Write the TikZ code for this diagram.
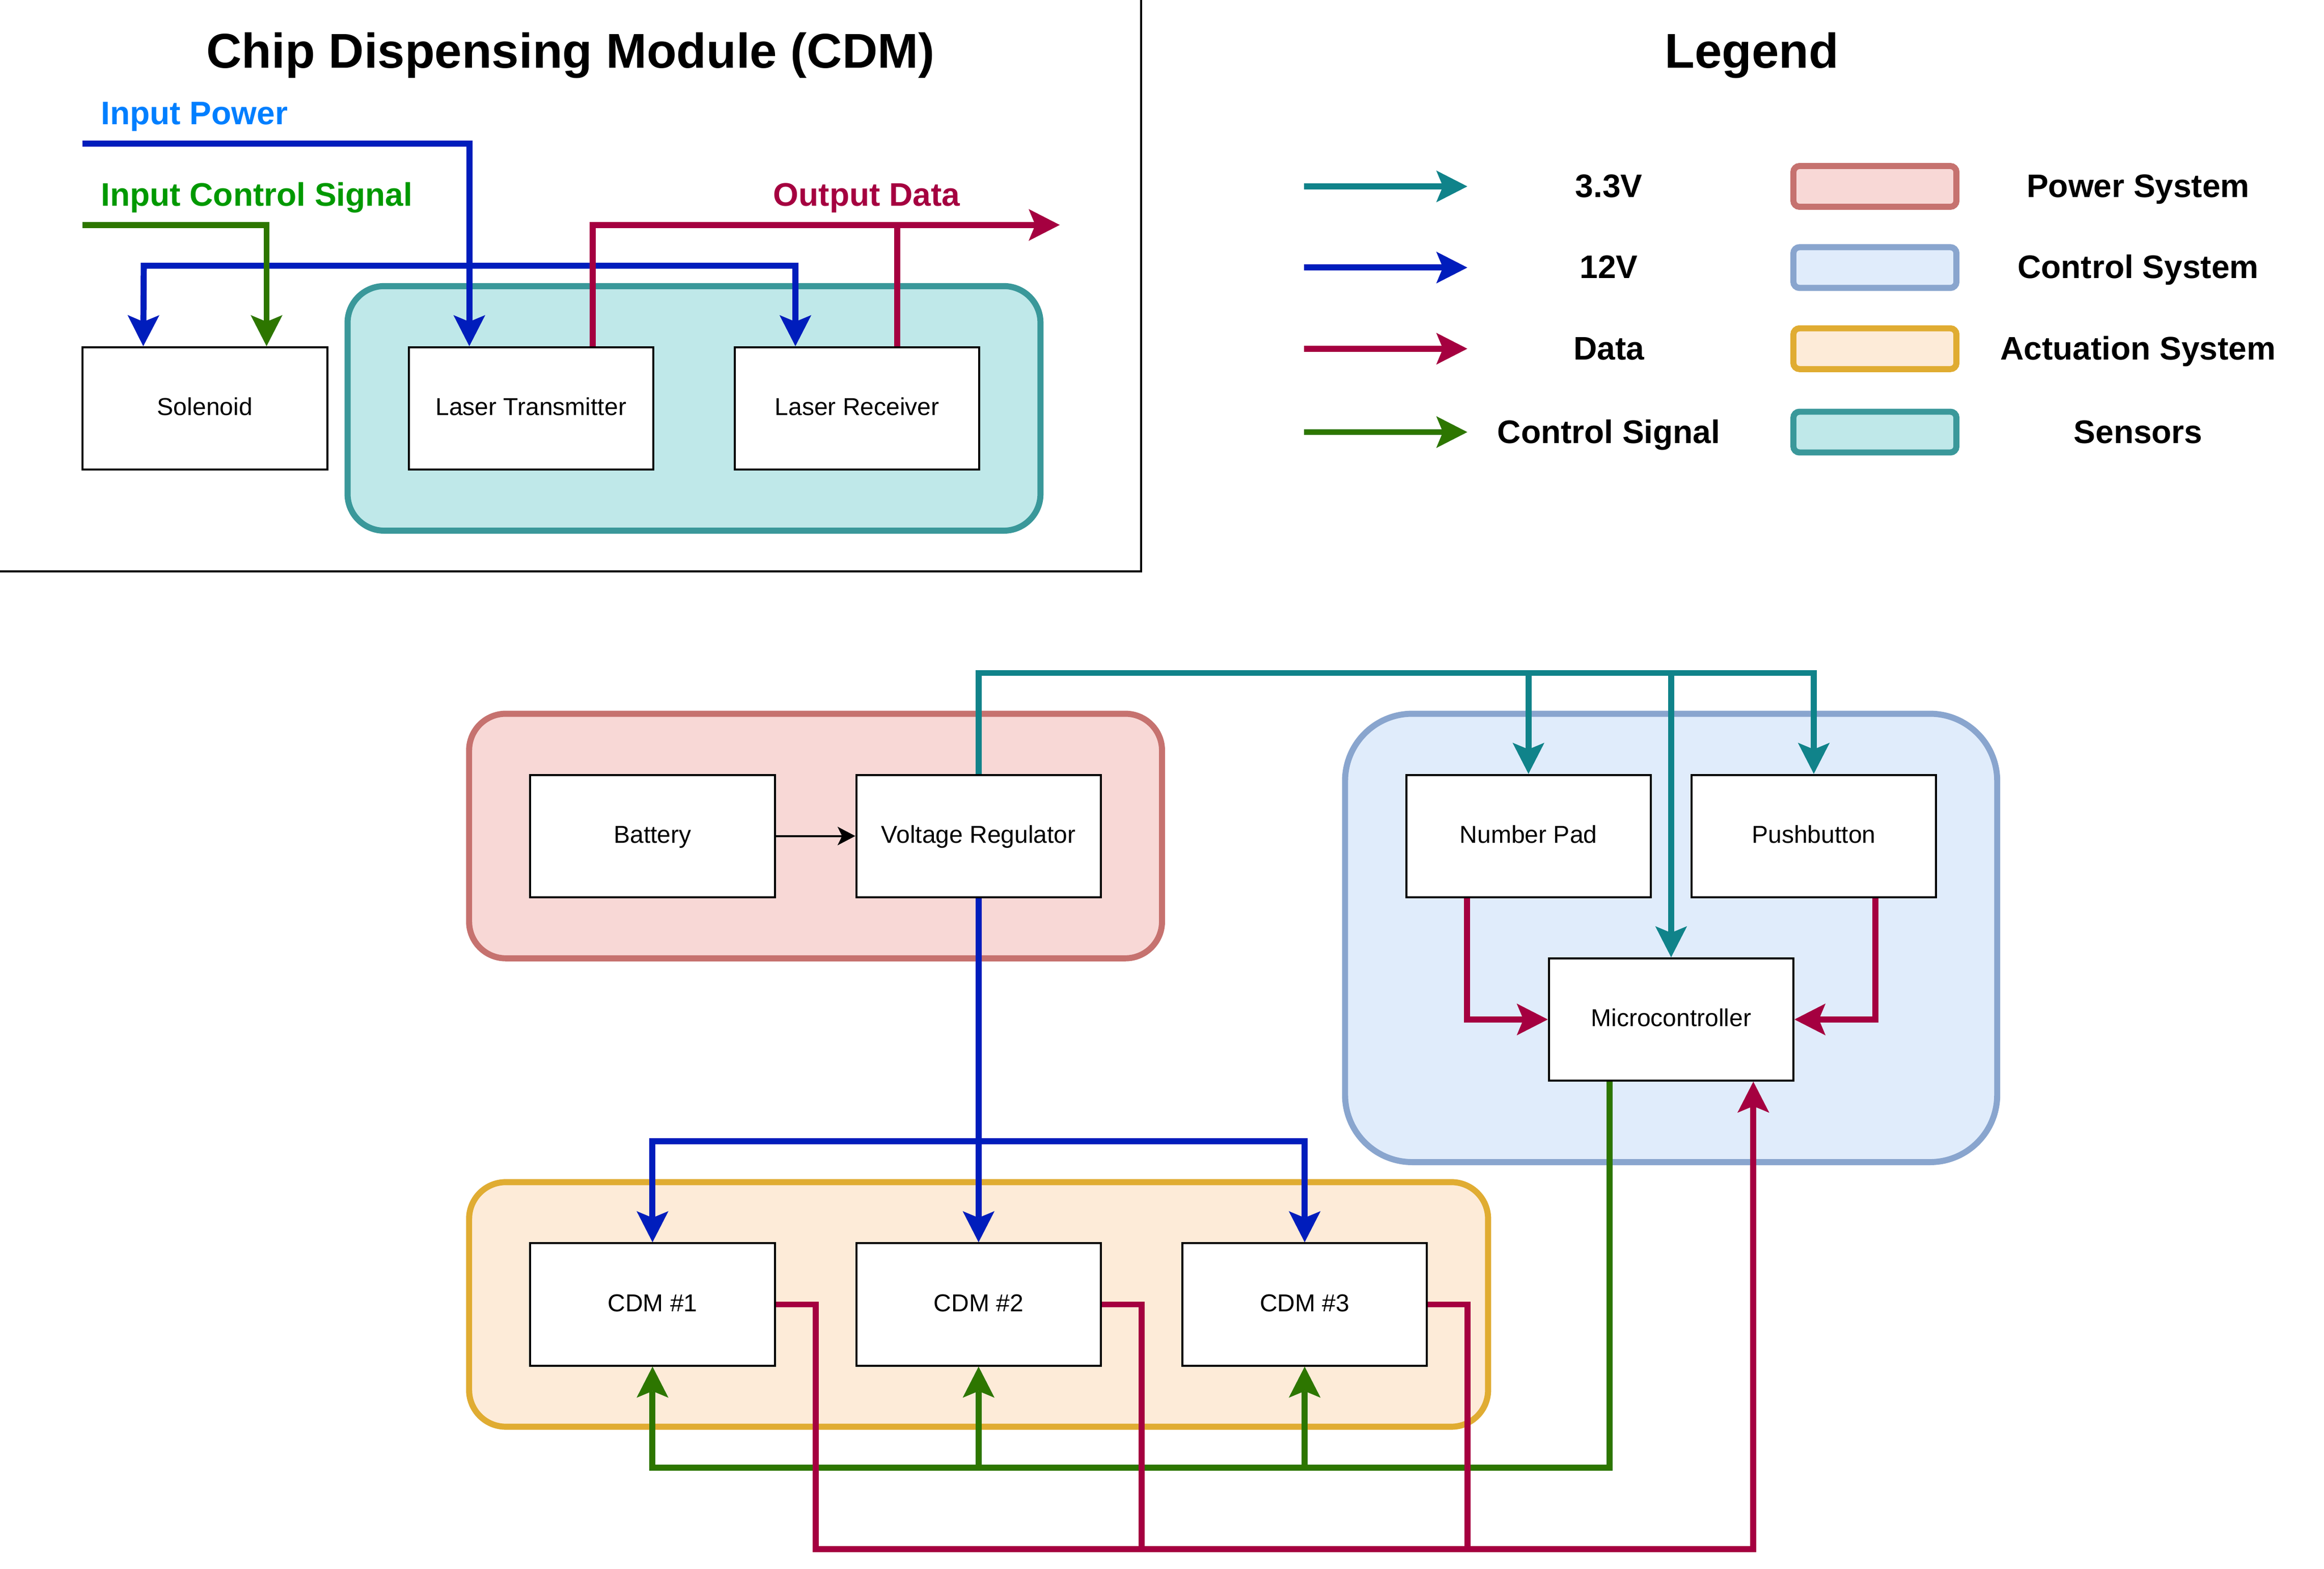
\documentclass[tikz,border=0pt]{standalone}
\usepackage{fontspec}
\setmainfont{Liberation Sans}
\usetikzlibrary{arrows.meta,calc}
\definecolor{cthree}{HTML}{10838A}
\definecolor{ctwelve}{HTML}{001DBC}
\definecolor{cdata}{HTML}{A50040}
\definecolor{csig}{HTML}{2D7600}
\definecolor{pwrF}{HTML}{F8D8D6}\definecolor{pwrS}{HTML}{C6726F}
\definecolor{ctlF}{HTML}{E0ECFB}\definecolor{ctlS}{HTML}{89A5CE}
\definecolor{actF}{HTML}{FDEBD8}\definecolor{actS}{HTML}{E0AC32}
\definecolor{senF}{HTML}{BFE8E9}\definecolor{senS}{HTML}{3A989A}
\definecolor{inpw}{HTML}{007FFF}
\definecolor{incs}{HTML}{009900}
\begin{document}
\begin{tikzpicture}[x=1pt,y=-1pt,
  >={Stealth[length=21pt,width=21.5pt,inset=4.5pt,line width=0pt]},
  blk/.style={draw=black,fill=white,line width=1.4pt,minimum width=165pt,minimum height=82.5pt,
    inner sep=0pt,font=\fontsize{16.5pt}{19pt}\selectfont,text height=11.8pt,text depth=2.4pt},
  grp/.style={line width=4.1pt,inner sep=0pt,rounded corners=24.75pt},
  legbox/.style={line width=4.1pt,inner sep=0pt,rounded corners=4.1pt,minimum width=110pt,minimum height=27.5pt},
  wire/.style={line width=4.1pt},
  lbl/.style={font=\bfseries\fontsize{22pt}{26pt}\selectfont,inner sep=0pt,anchor=base},
  ttl/.style={font=\bfseries\fontsize{33pt}{40pt}\selectfont,inner sep=0pt,anchor=base},
  frame/.style={line width=1.4pt,black}
]
\useasboundingbox (0,0) rectangle (1568,1058.2);
\fill[white] (0,0) rectangle (1568,1058.2);

% ---------- top-left panel ----------
\draw[frame] (770,0) -- (770,385.5) -- (0,385.5);
\node[ttl] (t1) at (385,46) {Chip Dispensing Module (CDM)};
\node[lbl,anchor=base west,text=inpw] (lip) at (68,84) {Input Power};
\node[lbl,anchor=base west,text=incs] (lics) at (68,139) {Input Control Signal};
\node[lbl,anchor=base west,text=cdata] (lod) at (521.6,139) {Output Data};

\node[grp,draw=senS,fill=senF,minimum width=467.5pt,minimum height=165pt] (sens) at (468.25,275.5) {};
\node[blk] (sol) at (138.25,275.5) {Solenoid};
\node[blk] (lt) at (358.25,275.5) {Laser Transmitter};
\node[blk] (lr) at (578.25,275.5) {Laser Receiver};

\coordinate (pin) at (55.75,96.75);
\coordinate (cin) at (55.75,151.75);
\coordinate (bbus) at (97,179.25);
\coordinate (dout) at (715,151.75);

\draw[wire,ctwelve,->] (pin) -| ($(lt.north west)!0.25!(lt.north east)$);
\draw[wire,ctwelve,<->] ($(sol.north west)!0.25!(sol.north east)$) -- (bbus) -| ($(lr.north west)!0.25!(lr.north east)$);
\draw[wire,csig,->] (cin) -| ($(sol.north west)!0.75!(sol.north east)$);
\draw[wire,cdata,->] ($(lt.north west)!0.75!(lt.north east)$) |- (dout);
\draw[wire,cdata] ($(lr.north west)!0.662!(lr.north east)$) -- ($(lr.north west)!0.662!(lr.north east) + (0,-82.5)$);

% ---------- legend ----------
\node[ttl] (t2) at (1182,46) {Legend};
\foreach \yy/\cc/\tt/\ff/\ss/\gg [count=\i] in {
   125.75/cthree/3.3V/pwrF/pwrS/Power System,
   180.5/ctwelve/12V/ctlF/ctlS/Control System,
   235.25/cdata/Data/actF/actS/Actuation System,
   291.5/csig/Control Signal/senF/senS/Sensors}{
  \coordinate (ls\i) at (880,\yy);
  \coordinate (le\i) at (990,\yy);
  \draw[wire,\cc,->] (ls\i) -- (le\i);
  \node[lbl] (lt\i) at (1085.5,\yy+7.4) {\tt};
  \node[legbox,draw=\ss,fill=\ff] (lb\i) at (1265,\yy) {};
  \node[lbl] (lg\i) at (1442.6,\yy+7.4) {\gg};
}

% ---------- groups ----------
\node[grp,draw=pwrS,fill=pwrF,minimum width=467.5pt,minimum height=165pt] (gpwr) at (550.25,564) {};
\node[grp,draw=ctlS,fill=ctlF,minimum width=440pt,minimum height=302.5pt,rounded corners=45.4pt] (gctl) at (1127.5,632.75) {};
\node[grp,draw=actS,fill=actF,minimum width=687.5pt,minimum height=165pt] (gact) at (660.25,880) {};

% ---------- blocks ----------
\node[blk] (bat) at (440.25,564) {Battery};
\node[blk] (vr) at (660.25,564) {Voltage Regulator};
\node[blk] (np) at (1031.25,564) {Number Pad};
\node[blk] (pb) at (1223.75,564) {Pushbutton};
\node[blk] (mc) at (1127.5,687.75) {Microcontroller};
\node[blk] (c1) at (440.25,880) {CDM \#1};
\node[blk] (c2) at (660.25,880) {CDM \#2};
\node[blk] (c3) at (880.25,880) {CDM \#3};

% ---------- connectors ----------
\draw[line width=1.4pt,-{Stealth[length=12pt,width=12.6pt,inset=3.1pt,line width=0pt]}] (bat) -- (vr);

\coordinate (tb) at (660.25,454);
\draw[wire,cthree,->] (vr.north) -- (tb) -| (pb.north);
\draw[wire,cthree,->] (np.north |- tb) -- (np.north);
\draw[wire,cthree,->] (mc.north |- tb) -- (mc.north);

\draw[wire,cdata,->] ($(np.south west)!0.25!(np.south east)$) |- (mc.west);
\draw[wire,cdata,->] ($(pb.south west)!0.75!(pb.south east)$) |- (mc.east);

\coordinate (bb) at (440.25,770);
\draw[wire,ctwelve,->] (vr.south) -- (c2.north);
\draw[wire,ctwelve,<->] (c1.north) -- (bb) -| (c3.north);

\coordinate (gb) at (440.25,990);
\draw[wire,csig,->] ($(mc.south west)!0.25!(mc.south east)$) |- (gb) -- (c1.south);
\draw[wire,csig,->] (c2.south |- gb) -- (c2.south);
\draw[wire,csig,->] (c3.south |- gb) -- (c3.south);

\coordinate (rb1) at (550.25,1045);
\coordinate (rb2) at (770.25,1045);
\coordinate (rb3) at (990.25,1045);
\draw[wire,cdata,->] (c1.east) -| (rb1) -| ($(mc.south west)!0.8333!(mc.south east)$);
\draw[wire,cdata] (c2.east) -| (rb2);
\draw[wire,cdata] (c3.east) -| (rb3);
\end{tikzpicture}
\end{document}
